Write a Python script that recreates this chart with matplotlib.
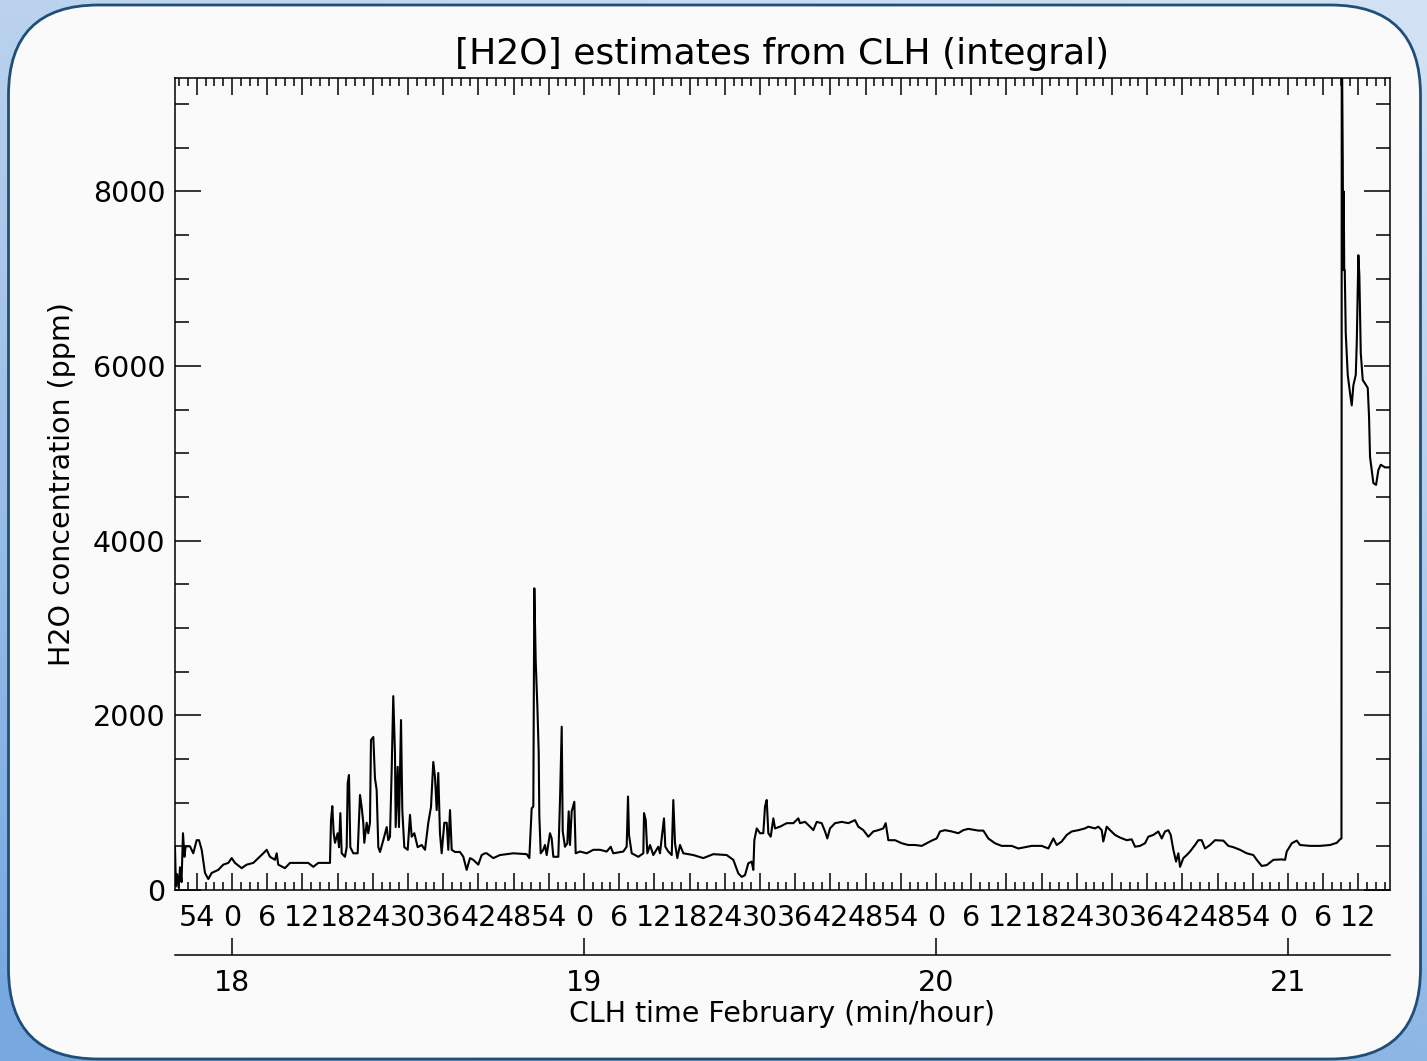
import numpy as np
import matplotlib
matplotlib.use('Agg')
import matplotlib.pyplot as plt
from matplotlib.patches import FancyBboxPatch
from matplotlib.ticker import MultipleLocator, FuncFormatter, NullLocator

plt.rcParams['font.family'] = ['DejaVu Sans']

# time in minutes after 18:00, H2O in ppm
t_start = [-9.72, -9.55, -9.35, -9.1, -8.85, -8.6, -8.35, -8.1, -7.9, -7.16,
           -6.60, -6.02, -5.62, -5.16, -4.60, -4.04, -3.46, -2.34, -1.48, -0.63,
           -0.05, 0.51, 1.65, 2.51, 3.63, 4.48, 5.34, 5.91, 6.48, 7.33,
           7.62, 7.89, 9.03, 9.89, 11.88, 13.0, 13.86, 14.71, 16.70]
h2o_start = [500, 40, 180, 30, 260, 90, 650, 380, 500, 500,
             420, 570, 570, 460, 195, 125, 195, 230, 290, 310,
             365, 310, 250, 290, 310, 365, 420, 460, 380, 345,
             420, 290, 250, 310, 310, 310, 265, 310, 310]

t_cloud1 = [16.88, 17.1, 17.33, 17.56, 18.01, 18.24, 18.47, 18.70, 19.26, 19.55,
            19.72, 19.94, 20.17, 20.68, 21.42, 21.82, 22.1, 22.38, 22.55, 22.96,
            23.23, 23.52, 23.69, 24.09, 24.37, 24.66, 24.94, 25.23, 25.79, 26.37,
            26.64, 26.93, 27.22, 27.49, 27.78, 27.9, 28.24, 28.46, 28.81, 29.03,
            29.37, 29.95, 30.34, 30.63, 31.08, 31.65, 32.33, 32.9, 33.46, 33.92,
            34.31, 34.6, 34.89, 35.16, 35.45, 35.74, 36.19, 36.6, 36.87, 37.16,
            37.45, 38.01, 38.86, 39.43, 40.0, 40.57, 41.13, 41.98, 42.56, 43.12]
h2o_cloud1 = [800, 960, 650, 540, 650, 490, 880, 420, 380, 490,
              1225, 1317, 490, 420, 420, 1088, 950, 770, 540, 770,
              650, 770, 1717, 1752, 1280, 1145, 490, 435, 570, 720,
              570, 610, 1375, 2220, 1570, 720, 1410, 720, 1946, 915,
              490, 460, 860, 610, 650, 490, 515, 460, 770, 950,
              1466, 1295, 915, 1340, 650, 420, 770, 770, 460, 915,
              460, 435, 435, 380, 230, 365, 345, 290, 400, 420]

t_cloud2 = [43.41, 44.54, 45.68, 47.95, 50.23, 50.68, 51.08, 51.36, 51.53, 51.77,
            52.05, 52.28, 52.38, 52.62, 53.06, 53.35, 53.64, 54.2, 54.49, 54.77,
            55.62, 55.91, 56.2, 56.37, 56.76, 57.16, 57.39, 57.61, 57.9, 58.35,
            58.58, 59.32, 60.46, 61.59, 62.73, 63.87, 64.55, 64.99, 66.7, 67.27,
            67.5, 67.67, 68.13, 69.26, 70.11, 70.23, 70.52, 70.79, 71.25, 71.81,
            72.66, 72.95, 73.63, 73.86, 74.37, 74.95, 75.22, 75.51, 75.9, 76.36,
            76.93, 78.63, 80.33, 82.04, 84.31, 85.45, 86.3, 86.88, 87.44, 88.0,
            88.57, 88.86, 89.03, 89.44, 90.0, 90.56, 90.85, 91.14, 91.42, 91.82,
            92.27, 92.56, 93.41, 94.55, 95.68, 96.53, 96.82]
h2o_cloud2 = [420, 365, 400, 420, 410, 365, 935, 955, 3455, 2615,
              2100, 1570, 860, 420, 460, 515, 400, 650, 590, 380,
              380, 1030, 1870, 670, 495, 535, 900, 515, 900, 1010,
              420, 440, 420, 460, 460, 440, 495, 420, 440, 495,
              1070, 630, 420, 380, 420, 880, 800, 420, 515, 400,
              495, 420, 820, 495, 440, 400, 1030, 535, 365, 515,
              420, 400, 365, 410, 400, 345, 190, 150, 170, 305,
              325, 230, 570, 705, 650, 650, 955, 1030, 650, 610,
              820, 705, 725, 765, 765, 820, 765]

t_clear = [97.67, 98.52, 99.09, 99.66, 100.51, 101.08, 101.47, 101.93, 102.78, 103.92,
           105.05, 106.19, 106.75, 107.61, 108.46, 109.31, 110.16, 111.01, 111.42, 111.87,
           113.01, 114.15, 115.28, 116.42, 117.56, 118.41, 119.26, 120.11, 120.68, 121.53,
           122.67, 123.8, 124.65, 125.5, 127.21, 128.06, 128.91, 130.05, 131.19, 132.9,
           134.03, 135.17, 136.31, 138.01, 139.14, 139.99, 140.57, 141.42, 142.27, 143.12,
           144.26, 145.39, 145.96, 147.1, 147.66, 148.24, 148.51,
           149.09, 149.66, 150.51, 151.36, 152.5, 153.35, 153.92, 154.77, 155.62, 156.18,
           157.03, 157.89, 158.47, 159.03, 159.6, 160.0, 160.45, 160.91, 161.3, 161.59,
           162.15, 162.73, 163.29, 164.14, 164.7, 165.28, 165.85, 166.7, 167.55, 168.97,
           169.82, 170.67, 171.81, 172.95, 174.08, 174.66, 175.51, 176.37, 177.5, 178.92,
           179.49, 179.77, 180.63, 181.48, 182.04, 183.75, 185.45, 187.16, 188.3, 188.86,
           189.1]
h2o_clear = [780, 725, 685, 780, 765, 670, 590, 705, 765, 780,
             765, 800, 725, 685, 610, 670, 685, 705, 765, 570,
             570, 535, 515, 515, 505, 535, 565, 590, 670, 685,
             670, 650, 685, 700, 680, 680, 590, 535, 505, 505,
             475, 490, 505, 505, 475, 590, 515, 555, 630, 670,
             685, 705, 725, 705, 725, 685, 555,
             725, 685, 630, 600, 570, 580, 495, 505, 535, 610,
             630, 670, 590, 670, 685, 630, 460, 325, 420, 265,
             365, 400, 440, 515, 570, 570, 475, 515, 570, 565,
             505, 490, 460, 420, 400, 345, 275, 285, 345, 350,
             345, 440, 535, 565, 515, 505, 505, 515, 540, 580,
             590]

t_end = [189.15, 189.32, 189.4, 189.49, 189.57, 189.66, 189.83, 190.17, 190.56, 190.85,
         191.13, 191.54, 191.71, 191.98, 192.15, 192.39, 192.73, 193.12, 193.58, 193.8,
         193.97, 194.26, 194.54, 195.0, 195.39, 195.8, 196.53, 197.38]
h2o_end = [10000, 8360, 7100, 8000, 7100, 7100, 6380, 5900, 5690, 5550,
           5780, 5900, 6275, 7270, 7040, 6150, 5840, 5800, 5750, 5420,
           4960, 4810, 4660, 4640, 4810, 4870, 4840, 4840]

hour_ticks = [0, 60, 120, 180]
hour_labels = ['18', '19', '20', '21']

t = np.concatenate([t_start, t_cloud1, t_cloud2, t_clear, t_end])
h2o = np.concatenate([h2o_start, h2o_cloud1, h2o_cloud2, h2o_clear, h2o_end])

fs = 20.5

fig = plt.figure(figsize=(14.27, 10.61), dpi=100)

# blue backdrop and rounded panel
bg = fig.add_axes([0, 0, 1, 1], zorder=-5)
bg.axis('off')
yy, xx = np.mgrid[0:1:200j, 0:1:200j]
w = np.clip(0.8 * yy + 0.3 * (1 - xx) - 0.05, 0, 1)[..., None]
light = np.array([0.82, 0.88, 0.95])
dark = np.array([0.47, 0.66, 0.88])
bg.imshow(light * (1 - w) + dark * w, extent=[0, 1, 0, 1], aspect='auto')
panel = FancyBboxPatch((0.085, 0.02), 14.12, 10.54,
                       boxstyle='round,pad=0,rounding_size=0.9',
                       transform=fig.dpi_scale_trans,
                       fc='#fafafa', ec='#1f4e79', lw=2)
bg.add_patch(panel)
bg.set_xlim(0, 1)
bg.set_ylim(0, 1)

ax = fig.add_axes([0.1226, 0.1612, 0.8515, 0.7653])
ax.set_facecolor('#fafafa')
ax.plot(t, h2o, color='black', lw=1.5)
ax.set_xlim(-9.72, 197.38)
ax.set_ylim(0, 9300)

ax.xaxis.set_major_locator(MultipleLocator(6))
ax.xaxis.set_minor_locator(MultipleLocator(1.5))
ax.xaxis.set_major_formatter(FuncFormatter(lambda v, p: str(int(round(v)) % 60)))
ax.yaxis.set_major_locator(MultipleLocator(2000))
ax.yaxis.set_minor_locator(MultipleLocator(500))

ax.tick_params(axis='both', which='both', direction='in', top=True, right=True,
               width=1.1, labelsize=fs)
ax.tick_params(axis='x', which='major', length=12, pad=10)
ax.tick_params(axis='x', which='minor', length=6)
ax.tick_params(axis='y', which='major', length=19, pad=7)
ax.tick_params(axis='y', which='minor', length=10)
for s in ax.spines.values():
    s.set_linewidth(1.1)

ax.set_title('[H2O] estimates from CLH (integral)', fontsize=26, pad=10)
ax.set_ylabel('H2O concentration (ppm)', fontsize=fs, labelpad=12)

sec = ax.secondary_xaxis(-0.08)
sec.set_xticks(hour_ticks)
sec.set_xticklabels(hour_labels)
sec.xaxis.set_minor_locator(NullLocator())
sec.tick_params(direction='in', length=12, width=1.1, pad=10, labelsize=fs)
sec.spines['bottom'].set_linewidth(1.1)
sec.set_xlabel('CLH time February (min/hour)', fontsize=fs, labelpad=2)

fig.savefig('out.png', dpi=100)
